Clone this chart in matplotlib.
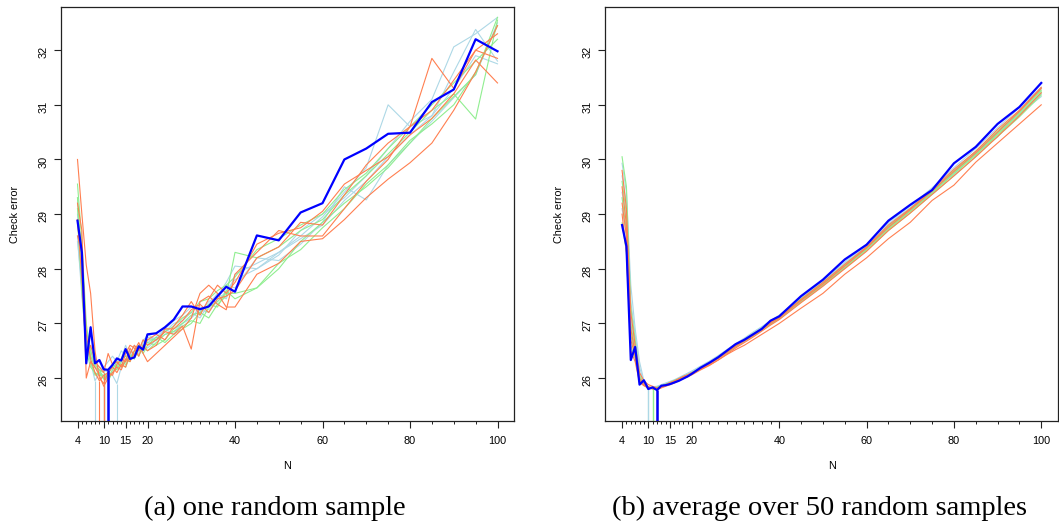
"""Check error vs N: one random sample (a) and average over 50 samples (b)."""
import matplotlib
import numpy as np

matplotlib.use('Agg')
import matplotlib.pyplot as plt

plt.rcParams['font.family'] = ['Liberation Sans', 'DejaVu Sans']

N = [4, 5, 6, 7, 8, 9, 10, 11, 12, 13, 14, 15, 16, 17, 18, 19, 20,
     22, 24, 26, 28, 30, 32, 34, 36, 38, 40,
     45, 50, 55, 60, 65, 70, 75, 80, 85, 90, 95, 100]
MAJOR_TICKS = [4, 10, 15, 20, 40, 60, 80, 100]
Y_TICKS = [26, 27, 28, 29, 30, 31, 32]

# ---- panel (a): one random sample ----
blue_a = [28.88, 28.30, 26.27, 26.93, 26.27, 26.33, 26.16, 26.15, 26.24, 26.36, 26.32, 26.53, 26.35, 26.38, 26.58, 26.52, 26.80,
          26.82, 26.93, 27.07, 27.31, 27.31, 27.26, 27.31, 27.50, 27.67, 27.58,
          28.61, 28.52, 29.03, 29.20, 30.00, 30.20, 30.47, 30.49, 31.05, 31.28, 32.20, 31.98]

coral_a = [
    [30.0, 29.0, 28.07, 27.55, 26.5, 26.0, 25.9, 26.1, 26.2, 26.1, 26.25, 26.2, 26.45, 26.6, 26.5, 26.7, 26.6,
     26.7, 26.85, 26.8, 26.95, 26.53, 27.4, 27.5, 27.35, 27.25, 27.9,
     28.3, 28.7, 28.6, 28.6, 29.1, 29.6, 30.0, 30.6, 31.85, 31.3, 32.0, 32.3],
    [29.2, 28.7, 26.0, 26.3, 26.2, 26.05, 25.85, 26.0, 26.1, 26.2, 26.15, 26.35, 26.3, 26.5, 26.65, 26.45, 26.3,
     26.45, 26.6, 26.75, 26.9, 27.1, 27.55, 27.7, 27.55, 27.3, 27.3,
     27.9, 28.1, 28.5, 28.55, 28.9, 29.3, 29.64, 29.94, 30.3, 30.9, 31.6, 32.45],
    [28.6, 28.3, 26.8, 26.35, 26.1, 25.95, 26.05, 26.1, 26.05, 26.25, 26.35, 26.3, 26.55, 26.4, 26.55, 26.55, 26.7,
     26.8, 26.7, 26.95, 27.15, 27.4, 27.15, 27.45, 27.7, 27.55, 27.75,
     28.45, 28.65, 28.75, 29.05, 29.55, 29.8, 30.05, 30.45, 30.75, 31.2, 31.82, 31.4],
    [28.9, 27.8, 26.4, 26.6, 26.3, 26.2, 26.1, 26.45, 26.25, 26.3, 26.2, 26.45, 26.6, 26.55, 26.4, 26.6, 26.5,
     26.6, 26.9, 26.9, 27.05, 27.25, 27.35, 27.2, 27.45, 27.5, 27.6,
     28.2, 28.4, 28.85, 28.8, 29.35, 29.9, 30.3, 30.6, 30.9, 31.45, 32.0, 31.85],
]
green_a = [
    [29.55, 28.5, 27.0, 26.4, 26.2, 26.15, 26.1, 26.0, 26.15, 26.3, 26.2, 26.3, 26.4, 26.45, 26.5, 26.55, 26.5,
     26.65, 26.8, 26.85, 26.95, 27.05, 27.0, 27.3, 27.4, 27.55, 27.55,
     27.65, 28.0, 28.5, 28.85, 29.2, 29.5, 29.85, 30.3, 30.75, 31.15, 31.55, 32.6],
    [29.3, 28.0, 26.6, 26.3, 26.05, 26.1, 25.98, 26.1, 26.2, 26.15, 26.3, 26.25, 26.35, 26.5, 26.4, 26.6, 26.65,
     26.6, 26.7, 26.9, 27.0, 27.15, 27.2, 27.1, 27.35, 27.5, 28.3,
     28.2, 28.4, 28.7, 28.9, 29.35, 29.7, 30.1, 30.5, 30.9, 31.2, 30.74, 32.55],
    [28.9, 27.6, 26.5, 26.2, 26.1, 26.05, 26.05, 25.95, 26.1, 26.2, 26.25, 26.2, 26.4, 26.35, 26.55, 26.45, 26.6,
     26.75, 26.65, 26.8, 26.9, 27.0, 27.2, 27.35, 27.3, 27.6, 27.45,
     27.65, 28.1, 28.35, 28.75, 29.1, 29.55, 29.9, 30.35, 30.65, 31.0, 31.6, 32.45],
    [29.1, 28.2, 26.9, 26.5, 26.25, 26.15, 26.0, 26.05, 26.25, 26.2, 26.35, 26.4, 26.3, 26.5, 26.6, 26.5, 26.7,
     26.7, 26.85, 26.95, 27.1, 27.2, 27.4, 27.45, 27.6, 27.7, 27.85,
     28.35, 28.55, 28.8, 29.0, 29.45, 29.75, 30.2, 30.6, 31.0, 31.4, 31.8, 32.2],
]
lblue_a = [
    [29.0, 27.6, 26.7, 26.3, 25.95, 26.1, 26.2, 26.3, 26.4, 26.3, 26.5, 26.4, 26.45, 26.6, 26.5, 26.7, 26.75,
     26.7, 26.85, 27.0, 27.05, 27.2, 27.1, 27.35, 27.55, 27.45, 27.9,
     28.1, 28.3, 28.6, 28.95, 29.4, 29.85, 31.0, 30.6, 30.8, 31.6, 32.38, 31.8],
    [28.6, 27.5, 26.6, 26.4, 26.3, 26.2, 26.15, 26.1, 26.05, 25.9, 26.2, 26.3, 26.45, 26.35, 26.6, 26.55, 26.65,
     26.75, 26.9, 26.8, 27.0, 27.1, 27.25, 27.2, 27.45, 27.7, 27.65,
     28.2, 28.15, 28.45, 28.85, 29.5, 29.26, 29.9, 30.3, 30.7, 31.13, 31.55, 32.5],
    [29.3, 27.9, 26.9, 26.5, 26.2, 26.1, 26.0, 26.1, 26.2, 26.25, 26.35, 26.6, 26.4, 26.5, 26.45, 26.65, 26.8,
     26.7, 26.9, 27.05, 27.15, 27.3, 27.2, 27.4, 27.5, 27.75, 28.05,
     28.0, 28.25, 28.7, 29.0, 29.3, 29.7, 30.2, 30.7, 31.1, 32.06, 32.3, 32.6],
    [28.5, 27.7, 26.6, 26.3, 26.2, 26.1, 26.05, 26.0, 26.15, 26.3, 26.25, 26.35, 26.5, 26.4, 26.55, 26.6, 26.55,
     26.7, 26.8, 26.85, 27.0, 27.1, 27.3, 27.25, 27.4, 27.6, 27.8,
     28.0, 28.3, 28.55, 28.8, 29.25, 29.6, 30.05, 30.45, 30.8, 31.3, 31.9, 31.75],
]

# ---- panel (b): average over 50 random samples ----
blue_b = [28.80, 28.41, 26.33, 26.57, 25.88, 25.96, 25.80, 25.83, 25.78, 25.86, 25.87, 25.89, 25.92, 25.95, 25.99, 26.03, 26.08,
          26.19, 26.28, 26.38, 26.50, 26.62, 26.70, 26.80, 26.90, 27.05, 27.13,
          27.50, 27.80, 28.17, 28.44, 28.88, 29.17, 29.44, 29.93, 30.23, 30.65, 30.96, 31.40]

coral_b = [
    [29.8, 29.1, 27.2, 26.6, 26.1, 25.95, 25.88, 25.85, 25.82, 25.85, 25.88, 25.92, 25.95, 25.99, 26.03, 26.06, 26.1,
     26.16, 26.24, 26.33, 26.43, 26.52, 26.6, 26.7, 26.8, 26.9, 27.0,
     27.28, 27.55, 27.9, 28.2, 28.55, 28.85, 29.25, 29.53, 29.95, 30.3, 30.65, 31.0],
    [29.5, 28.8, 26.9, 26.45, 26.0, 25.9, 25.84, 25.82, 25.8, 25.83, 25.86, 25.89, 25.93, 25.97, 26.0, 26.04, 26.08,
     26.17, 26.26, 26.36, 26.47, 26.58, 26.68, 26.78, 26.89, 27.0, 27.1,
     27.42, 27.72, 28.05, 28.38, 28.76, 29.08, 29.42, 29.78, 30.12, 30.5, 30.88, 31.3],
    [29.2, 28.6, 26.7, 26.4, 25.95, 25.87, 25.83, 25.81, 25.8, 25.84, 25.87, 25.9, 25.94, 25.98, 26.02, 26.05, 26.09,
     26.18, 26.27, 26.37, 26.48, 26.59, 26.69, 26.8, 26.9, 27.02, 27.11,
     27.44, 27.75, 28.08, 28.4, 28.8, 29.1, 29.45, 29.82, 30.15, 30.55, 30.9, 31.32],
    [29.0, 28.3, 26.5, 26.3, 25.92, 25.86, 25.82, 25.8, 25.79, 25.82, 25.85, 25.88, 25.91, 25.95, 25.99, 26.02, 26.06,
     26.15, 26.23, 26.33, 26.44, 26.55, 26.65, 26.75, 26.86, 26.97, 27.07,
     27.38, 27.68, 28.0, 28.32, 28.7, 29.02, 29.36, 29.7, 30.05, 30.42, 30.8, 31.22],
]
green_b = [
    [30.05, 29.5, 27.3, 26.7, 26.05, 25.9, 25.84, 25.8, 25.82, 25.85, 25.88, 25.91, 25.94, 25.97, 26.01, 26.05, 26.09,
     26.18, 26.27, 26.37, 26.47, 26.58, 26.68, 26.78, 26.88, 26.99, 27.09,
     27.4, 27.7, 28.02, 28.35, 28.72, 29.05, 29.38, 29.74, 30.08, 30.45, 30.82, 31.22],
    [28.84, 28.3, 26.6, 26.35, 25.95, 25.87, 25.83, 25.81, 25.83, 25.86, 25.89, 25.92, 25.96, 25.99, 26.03, 26.06, 26.1,
     26.19, 26.28, 26.38, 26.49, 26.6, 26.7, 26.8, 26.91, 27.02, 27.12,
     27.45, 27.75, 28.08, 28.4, 28.78, 29.1, 29.43, 29.8, 30.15, 30.52, 30.88, 31.27],
    [29.6, 29.0, 27.0, 26.5, 26.0, 25.88, 25.84, 25.82, 25.83, 25.85, 25.88, 25.9, 25.93, 25.97, 26.0, 26.04, 26.08,
     26.17, 26.26, 26.36, 26.46, 26.57, 26.67, 26.77, 26.87, 26.98, 27.08,
     27.39, 27.69, 28.01, 28.33, 28.7, 29.02, 29.36, 29.7, 30.05, 30.42, 30.78, 31.18],
    [29.3, 28.7, 26.8, 26.4, 25.97, 25.88, 25.83, 25.81, 25.82, 25.84, 25.87, 25.9, 25.94, 25.98, 26.02, 26.05, 26.09,
     26.18, 26.27, 26.37, 26.47, 26.58, 26.68, 26.79, 26.89, 27.0, 27.1,
     27.42, 27.72, 28.04, 28.37, 28.74, 29.06, 29.4, 29.76, 30.1, 30.47, 30.85, 31.25],
]
lblue_b = [
    [29.93, 29.4, 27.7, 26.9, 26.3, 25.95, 25.82, 25.84, 25.85, 25.88, 25.91, 25.94, 25.97, 26.01, 26.05, 26.09, 26.13,
     26.22, 26.31, 26.41, 26.52, 26.63, 26.73, 26.84, 26.94, 27.05, 27.15,
     27.48, 27.78, 28.12, 28.45, 28.85, 29.15, 29.48, 29.85, 30.2, 30.58, 30.95, 31.32],
    [29.7, 29.2, 27.4, 26.8, 26.2, 25.92, 25.81, 25.83, 25.84, 25.87, 25.9, 25.93, 25.96, 26.0, 26.04, 26.08, 26.12,
     26.21, 26.3, 26.4, 26.51, 26.62, 26.72, 26.83, 26.93, 27.04, 27.14,
     27.46, 27.77, 28.1, 28.42, 28.82, 29.12, 29.45, 29.72, 30.11, 30.41, 30.9, 31.3],
    [29.4, 28.9, 27.1, 26.6, 26.1, 25.9, 25.81, 25.82, 25.84, 25.86, 25.89, 25.92, 25.95, 25.99, 26.03, 26.07, 26.11,
     26.2, 26.29, 26.39, 26.5, 26.61, 26.71, 26.81, 26.92, 27.03, 27.13,
     27.44, 27.74, 28.06, 28.38, 28.78, 29.08, 29.42, 29.78, 30.13, 30.5, 30.86, 31.2],
    [29.1, 28.6, 26.9, 26.5, 26.05, 25.88, 25.8, 25.82, 25.83, 25.86, 25.88, 25.91, 25.95, 25.98, 26.02, 26.06, 26.1,
     26.19, 26.28, 26.38, 26.49, 26.6, 26.7, 26.8, 26.91, 27.01, 27.11,
     27.43, 27.73, 28.05, 28.37, 28.75, 29.06, 29.4, 29.75, 30.1, 30.48, 30.84, 31.15],
]

XLIM = (0.16, 103.84)
YLIM = (25.22, 32.79)
W, H = 1059, 529


def draw_panel(ax, groups, blue):
    n = np.array(N)
    for color, lines in groups:
        for y in lines:
            y = np.array(y)
            assert len(y) == len(n)
            ax.plot(n, y, color=color, linewidth=0.8)
            i = int(np.argmin(y))
            ax.vlines(n[i], YLIM[0], y[i], color=color, linewidth=0.8)
    y = np.array(blue)
    ax.plot(n, y, color='#0000FF', linewidth=1.6)
    i = int(np.argmin(y))
    ax.vlines(n[i], YLIM[0], y[i], color='#0000FF', linewidth=1.8)

    ax.set_xlim(*XLIM)
    ax.set_ylim(*YLIM)
    ax.set_xticks(MAJOR_TICKS)
    ax.set_xticks(N, minor=True)
    ax.set_yticks(Y_TICKS)
    ax.tick_params(which='major', length=5, width=0.8, labelsize=7.8, color='#222222')
    ax.tick_params(which='minor', length=2.5, width=0.7, color='#222222')
    ax.tick_params(axis='x', which='major', pad=6)
    ax.tick_params(axis='y', which='major', pad=4, labelrotation=90)
    for s in ax.spines.values():
        s.set_linewidth(0.9)
        s.set_color('#222222')


fig = plt.figure(figsize=(W / 100, H / 100), dpi=100)
ax_a = fig.add_axes([60.7 / W, 1 - 420.7 / H, 453.6 / W, 413.7 / H])
ax_b = fig.add_axes([605.3 / W, 1 - 420.7 / H, 452.7 / W, 413.7 / H])

draw_panel(ax_a, [('#ADD8E6', lblue_a), ('#90EE90', green_a), ('#FF7F50', coral_a)], blue_a)
draw_panel(ax_b, [('#ADD8E6', lblue_b), ('#90EE90', green_b), ('#FF7F50', coral_b)], blue_b)

for xc, yl in [(14.5, 287.5), (559, 831.7)]:
    fig.text(xc / W, 1 - 214 / H, 'Check error', rotation=90, ha='center', va='center', fontsize=7.8)
    fig.text(yl / W, 1 - 466 / H, 'N', ha='center', va='center', fontsize=7.8)

fig.text(275 / W, 1 - 508 / H, '(a) one random sample', ha='center', va='center',
         fontsize=20.5, family=['Liberation Serif', 'DejaVu Serif'])
fig.text(820 / W, 1 - 508 / H, '(b) average over 50 random samples', ha='center', va='center',
         fontsize=20.5, family=['Liberation Serif', 'DejaVu Serif'])

fig.savefig('out.png', dpi=100)
plt.close(fig)
